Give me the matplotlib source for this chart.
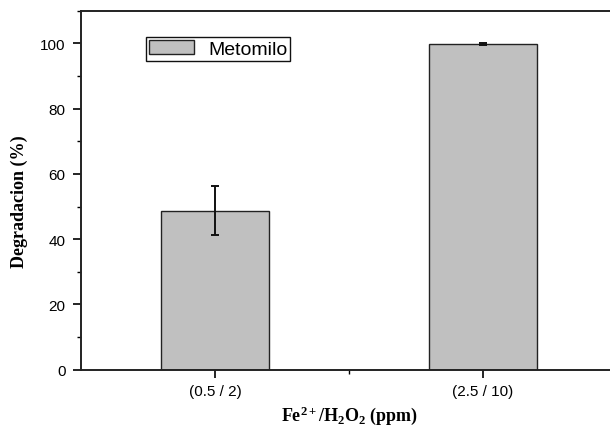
import matplotlib
matplotlib.use("Agg")
import matplotlib.pyplot as plt
from matplotlib.ticker import MultipleLocator, FixedLocator

categories = ["(0.5 / 2)", "(2.5 / 10)"]
values = [48.7, 99.8]
errors = [7.5, 0.3]
series_name = "Metomilo"

plt.rcParams['mathtext.fontset'] = 'custom'
plt.rcParams['mathtext.rm'] = 'Liberation Serif:bold'
plt.rcParams['mathtext.bf'] = 'Liberation Serif:bold'
plt.rcParams['mathtext.it'] = 'Liberation Serif:bold'

fig = plt.figure(figsize=(6.1, 4.31), dpi=100)
ax = fig.add_axes([81/610, (431-370.7)/431, 536/610, 359/431])

x = [1, 2]
ax.bar(x, values, width=0.4, color="#c0c0c0", edgecolor="#222222", linewidth=1.0,
       label=series_name, zorder=2)
ax.errorbar(x, values, yerr=errors, fmt='none', ecolor="#111111", elinewidth=1.4,
            capsize=3, capthick=1.4, zorder=3)

ax.set_xlim(0.5, 2.5)
ax.set_ylim(0, 110)
ax.set_xticks(x)
ax.set_xticklabels(categories, family="Liberation Sans", fontsize=11)
ax.xaxis.set_minor_locator(FixedLocator([1.5]))
ax.yaxis.set_major_locator(MultipleLocator(20))
ax.yaxis.set_minor_locator(MultipleLocator(10))
for lab in ax.get_yticklabels():
    lab.set_family("Liberation Sans")
    lab.set_fontsize(11)

ax.tick_params(axis='both', which='major', direction='out', length=5.5, width=1.2)
ax.tick_params(axis='both', which='minor', direction='out', length=2.8, width=1.0)
ax.tick_params(axis='x', which='major', pad=4.5)
ax.tick_params(axis='y', which='major', pad=5.5)

for s in ['left', 'bottom', 'top', 'right']:
    ax.spines[s].set_linewidth(1.4)
    ax.spines[s].set_color("#222222")

ax.set_ylabel("Degradacion (%)", family="Liberation Serif", fontweight="bold",
              fontsize=13)
ax.yaxis.label.set_rotation_mode('default')
ax.yaxis.label.set_va('center')
ax.yaxis.label.set_ha('center')
ax.yaxis.set_label_coords((19-81)/536, (370.7-202)/359)

ax.set_xlabel(r"Fe$^{2+}$/H$_{2}$O$_{2}$ (ppm)", family="Liberation Serif",
              fontweight="bold", fontsize=13)
ax.xaxis.label.set_va('top')
ax.xaxis.set_label_coords(0.5, (370.7-404)/359)

leg = ax.legend(loc="upper left", bbox_to_anchor=((146-81)/536, (370.7-38)/359),
                frameon=True, fancybox=False, edgecolor="#111111", framealpha=1,
                prop={"family": "Liberation Sans", "size": 14},
                handlelength=2.3, handleheight=0.75, borderpad=0.15,
                handletextpad=0.75, borderaxespad=0)
leg.get_frame().set_linewidth(1.0)

fig.savefig("out.png", dpi=100)
